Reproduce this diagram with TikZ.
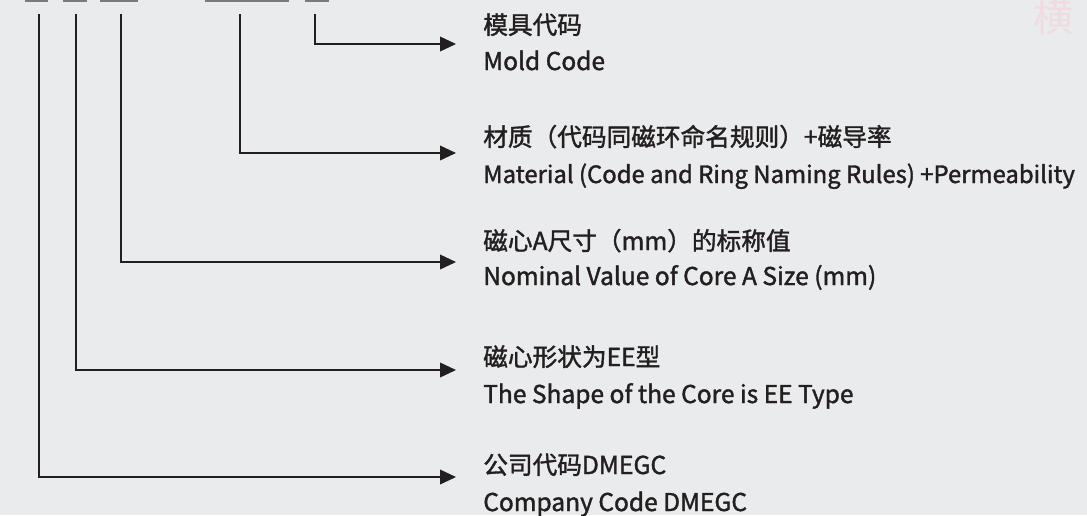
\documentclass[tikz,border=0pt]{standalone}
\usepackage{fontspec}
\setmainfont{Noto Sans CJK SC}[FakeBold=1.5]
\newfontfamily\wmfont{Noto Sans CJK SC}
\usetikzlibrary{arrows.meta}
\definecolor{bg}{HTML}{EAEBED}
\definecolor{ink}{HTML}{231F20}
\definecolor{bar}{HTML}{7A7A7A}
\definecolor{wm}{HTML}{EEDCE0}
\tikzset{
  lead/.style={draw=ink, line width=1.2pt, -{Triangle[length=12pt,width=11pt]}},
  zh/.style={anchor=base west, inner sep=0pt, text=ink, font=\fontsize{18.5}{20}\selectfont},
  en/.style={anchor=base west, inner sep=0pt, text=ink, font=\fontsize{18.4}{20}\selectfont},
  topbar/.style={fill=bar, draw=none}
}
\begin{document}
\begin{tikzpicture}[x=0.75pt, y=-0.75pt]
\fill[bg] (0,0) rectangle (1087,515);
\useasboundingbox (0,0) rectangle (1087,515);
% top bars
\fill[topbar] (25,0) rectangle (48,1.5);
\fill[topbar] (63,0) rectangle (87,1.5);
\fill[topbar] (100,0) rectangle (138,1.5);
\fill[topbar] (205,0) rectangle (289,1.5);
\fill[topbar] (305,0) rectangle (329,1.5);
% watermark
\node[anchor=base west, inner sep=0pt, text=wm, font=\wmfont\fontsize{30}{32}\selectfont] (wmark) at (1033,31) {横};
% connector start points
\coordinate (s1) at (315,14);
\coordinate (s2) at (240,14);
\coordinate (s3) at (121,14);
\coordinate (s4) at (76,14);
\coordinate (s5) at (39,14);
% connector end points
\coordinate (e1) at (456,44);
\coordinate (e2) at (456,153);
\coordinate (e3) at (456,262);
\coordinate (e4) at (456,370);
\coordinate (e5) at (456,477);
% labels
\node[zh] (z1) at (483,34) {模具代码};
\node[en] (n1) at (483,70) {Mold Code};
\node[zh] (z2) at (483,146) {材质（代码同磁环命名规则）+磁导率};
\node[en, font=\fontsize{17.9}{20}\selectfont] (n2) at (483,183) {Material (Code and Ring Naming Rules) +Permeability};
\node[zh] (z3) at (483,250) {磁心A尺寸（mm）的标称值};
\node[en] (n3) at (483,285) {Nominal Value of Core A Size (mm)};
\node[zh] (z4) at (483,366) {磁心形状为EE型};
\node[en] (n4) at (483,403) {The Shape of the Core is EE Type};
\node[zh] (z5) at (483,474) {公司代码DMEGC};
\node[en] (n5) at (483,511) {Company Code DMEGC};
% connectors
\draw[lead] (s1) |- (e1);
\draw[lead] (s2) |- (e2);
\draw[lead] (s3) |- (e3);
\draw[lead] (s4) |- (e4);
\draw[lead] (s5) |- (e5);
\end{tikzpicture}
\end{document}
